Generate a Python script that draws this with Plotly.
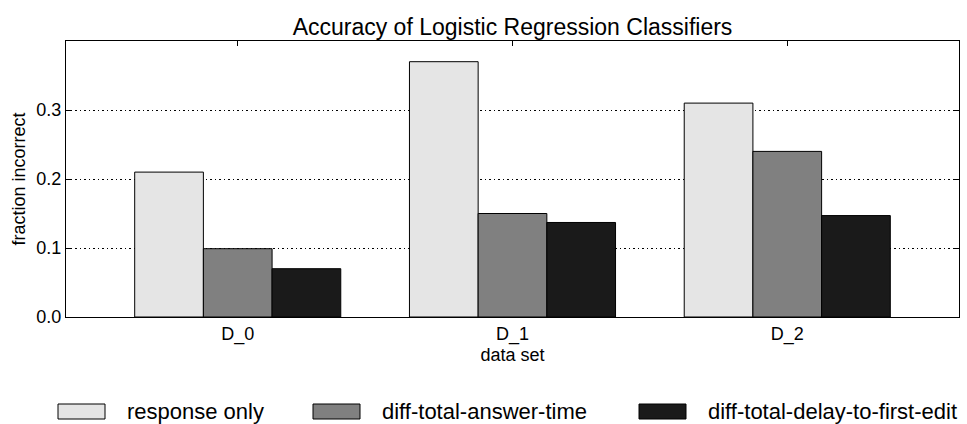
import plotly.graph_objects as go

# ---- data ----
categories = ["D_0", "D_1", "D_2"]
series_names = ["response only", "diff-total-answer-time", "diff-total-delay-to-first-edit"]
response_only = [0.21, 0.37, 0.31]
diff_total_answer_time = [0.099, 0.15, 0.24]
diff_total_delay_to_first_edit = [0.07, 0.137, 0.147]
series_values = [response_only, diff_total_answer_time, diff_total_delay_to_first_edit]
series_colors = ["#e5e5e5", "#808080", "#1a1a1a"]
y_ticks = [0.0, 0.1, 0.2, 0.3]

FONT = "Liberation Sans, Arial, Helvetica, sans-serif"
W, H = 967, 424
ML, MR, MT, MB = 66, 8, 41, 107

fig = go.Figure()
for name, vals, col in zip(series_names, series_values, series_colors):
    fig.add_trace(go.Bar(
        x=categories, y=vals, name=name,
        marker=dict(color=col, line=dict(color="black", width=1)),
        showlegend=False,
    ))

# custom legend (swatches + labels) in paper coordinates
pw = W - ML - MR
ph = H - MT - MB
def px2x(px):
    return (px - ML) / pw
def py2y(py):
    return (H - MB - py) / ph

legend_starts = [58, 313, 639]
sw_w, sw_top, sw_bot, gap = 47, 404, 419, 20
for start, name, col in zip(legend_starts, series_names, series_colors):
    fig.add_shape(type="rect", xref="paper", yref="paper",
                  x0=px2x(start), x1=px2x(start + sw_w),
                  y0=py2y(sw_bot), y1=py2y(sw_top),
                  fillcolor=col, line=dict(color="black", width=1))
    fig.add_annotation(xref="paper", yref="paper",
                       x=px2x(start + sw_w + gap), y=py2y((sw_top + sw_bot) / 2),
                       xanchor="left", yanchor="middle", showarrow=False,
                       text=name, font=dict(family=FONT, size=22, color="black"))

fig.update_layout(
    width=W, height=H,
    margin=dict(l=ML, r=MR, t=MT, b=MB),
    paper_bgcolor="white", plot_bgcolor="white",
    barmode="group", bargap=0.25, bargroupgap=0,
    font=dict(family=FONT, size=18, color="black"),
    title=dict(text="Accuracy of Logistic Regression Classifiers",
               x=(ML + pw / 2) / W, xanchor="center",
               y=1 - 27 / H, yanchor="middle", yref="container",
               font=dict(family=FONT, size=23, color="black")),
    xaxis=dict(range=[-0.625, 2.625], showline=True, linecolor="black", linewidth=1,
               mirror="ticks", ticks="inside", ticklen=5, tickcolor="black",
               layer="below traces", showgrid=False,
               title=dict(text="data set", standoff=4, font=dict(size=18)),
               tickfont=dict(size=18)),
    yaxis=dict(range=[0, 0.4], tickvals=y_ticks, tickformat=".1f",
               showline=True, linecolor="black", linewidth=1, mirror="ticks",
               ticks="inside", ticklen=5, tickcolor="black",
               showgrid=True, gridcolor="black", gridwidth=1, griddash="1.5px,3px",
               zeroline=False, layer="below traces",
               title=dict(text="fraction incorrect", standoff=6, font=dict(size=18)),
               tickfont=dict(size=18)),
)

fig.write_html("out.html")
